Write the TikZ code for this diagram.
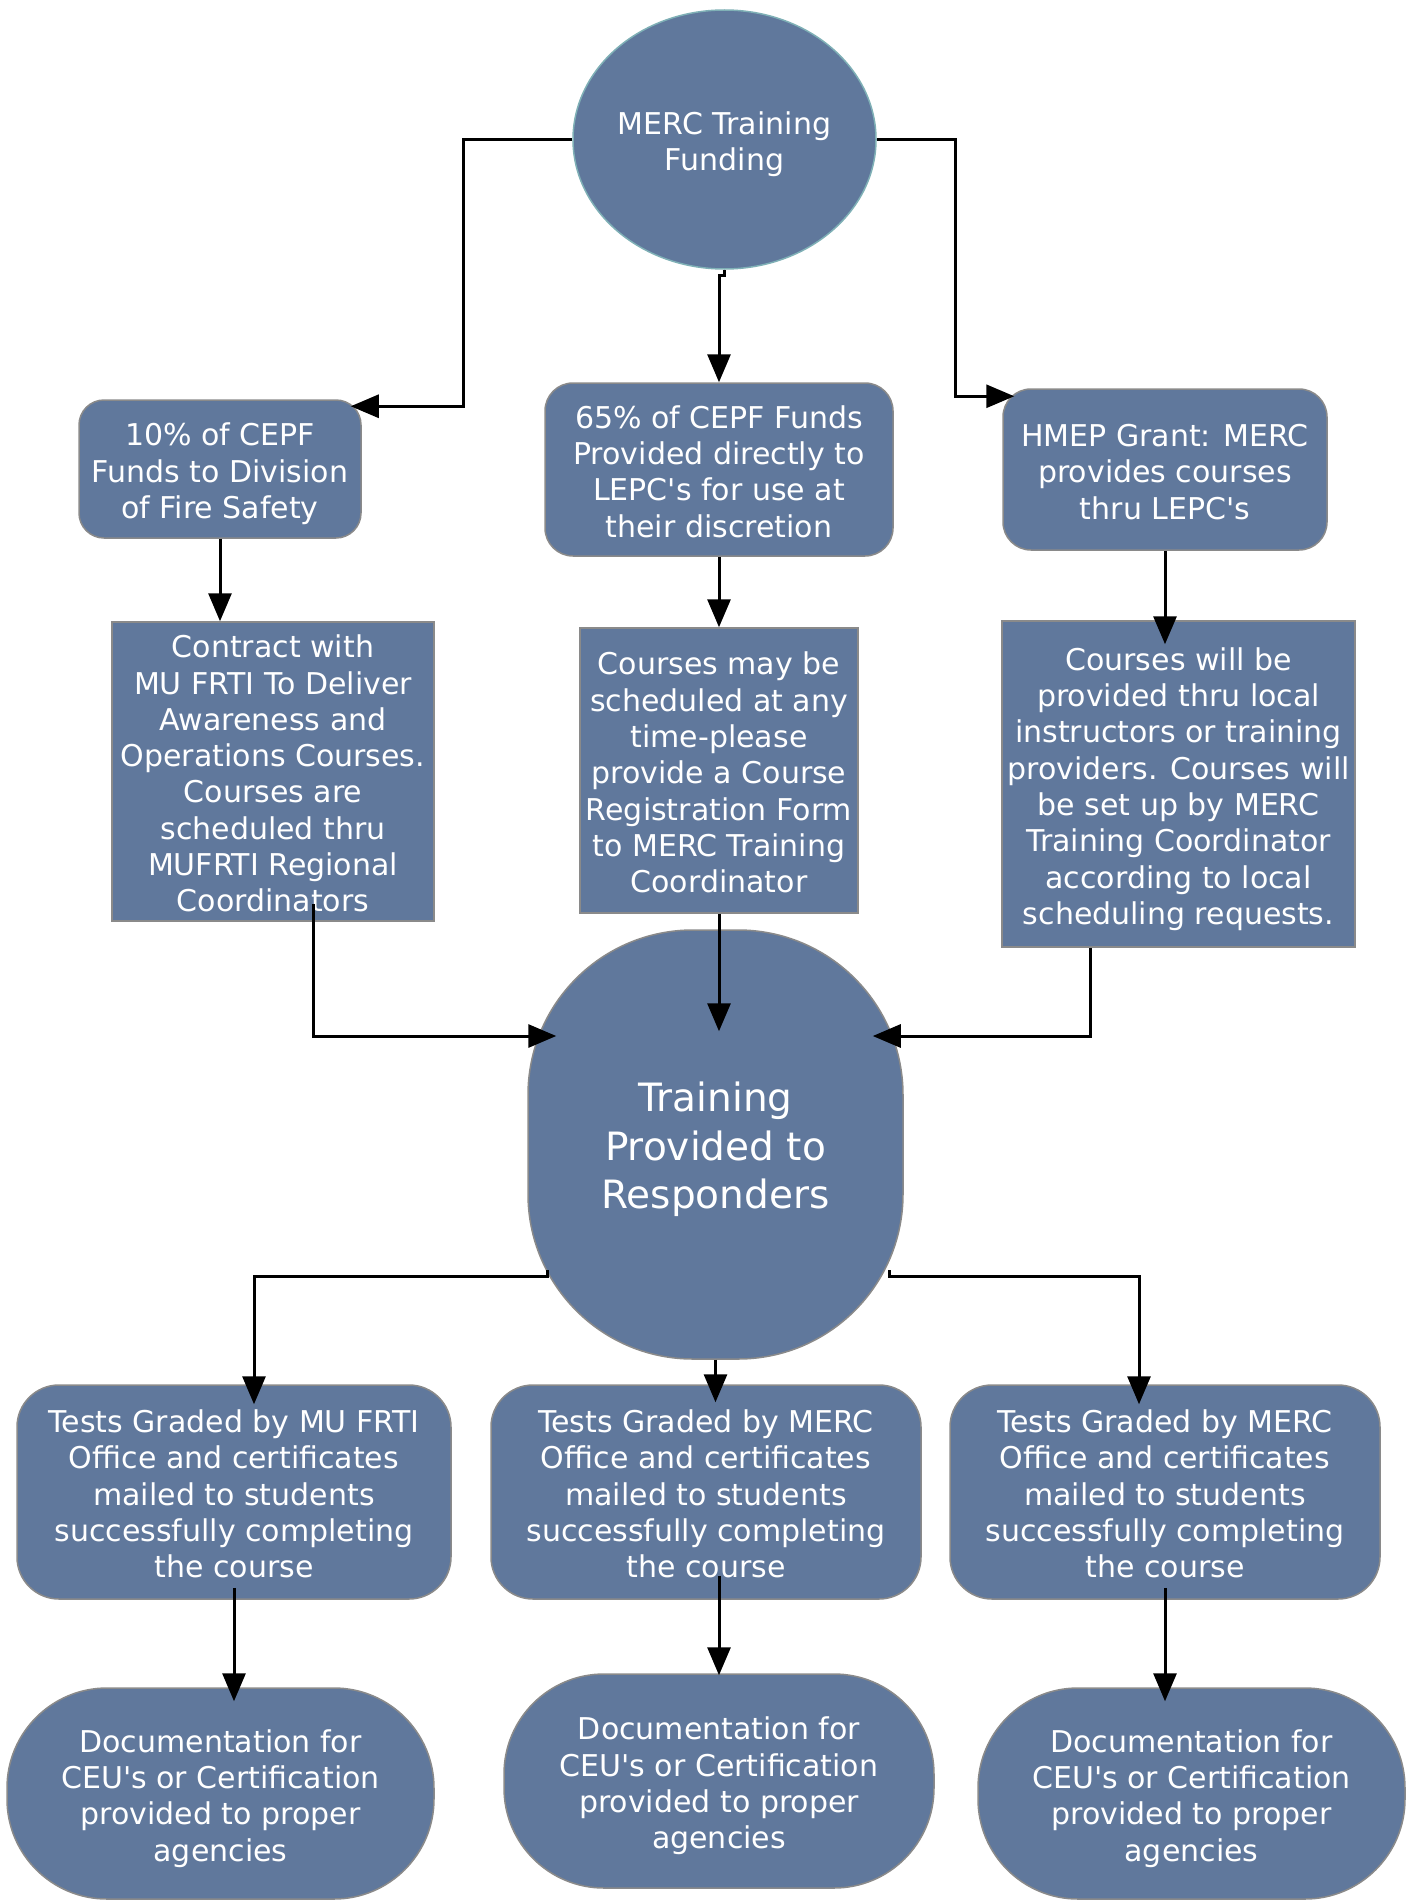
\documentclass[tikz,border=0pt]{standalone}
\usepackage{fontspec}
\setmainfont{DejaVu Sans}
\usepackage{tikz}
\usetikzlibrary{arrows.meta,calc,shapes.geometric}
\definecolor{mercblue}{HTML}{60789C}
\definecolor{edgegray}{HTML}{8A8A8A}
\definecolor{edgeteal}{HTML}{7FB0B6}
\newcommand\apo{\textquotesingle}
% centred lines, set a little low in the shape
\newcommand\ntext[1]{\raisebox{-6pt}[\height][\depth]{\begin{tabular}{@{}c@{}}#1\end{tabular}}}
\tikzset{
  base/.style={fill=mercblue, draw=edgegray, line width=1.5pt, text=white, inner sep=0pt,
    font=\fontsize{30}{36.3}\selectfont},
  sqbox/.style={base},
  rndbox/.style={base, rounded corners=25pt},
  testbox/.style={base, rounded corners=42pt},
  docnode/.style={base, rounded corners=100pt},
  arr/.style={line width=3pt, -{Triangle[length=28pt,width=23pt]}}
}
\begin{document}
\begin{tikzpicture}[x=1pt,y=-1pt]
\useasboundingbox (0,0) rectangle (1409,1900);
\node[base, ellipse, draw=edgeteal, minimum width=303pt, minimum height=259pt] (fund) at (724.5,139.5) {\ntext{MERC Training\\Funding}};
\node[rndbox, minimum width=282pt, minimum height=138pt] (L1) at (220,469) {\ntext{10\% of CEPF\\Funds to Division\\of Fire Safety}};
\node[rndbox, rounded corners=28pt, minimum width=348pt, minimum height=173pt] (M1) at (719,469.5) {\ntext{65\% of CEPF Funds\\Provided directly to\\LEPC\apo s for use at\\their discretion}};
\node[rndbox, rounded corners=28pt, minimum width=324pt, minimum height=161pt] (R1) at (1165,469.5) {\ntext{HMEP Grant: MERC\\provides courses\\thru LEPC\apo s}};
\node[sqbox, minimum width=322pt, minimum height=299pt] (L2) at (273,771.5) {\ntext{Contract with\\MU FRTI To Deliver\\Awareness and\\Operations Courses.\\Courses are\\scheduled thru\\MUFRTI Regional\\Coordinators}};
\node[sqbox, minimum width=278pt, minimum height=285pt] (M2) at (719,770.5) {\ntext{Courses may be\\scheduled at any\\time-please\\provide a Course\\Registration Form\\to MERC Training\\Coordinator}};
\node[sqbox, minimum width=353pt, minimum height=326pt] (R2) at (1178.5,784) {\ntext{Courses will be\\provided thru local\\instructors or training\\providers. Courses will\\be set up by MERC\\Training Coordinator\\according to local\\scheduling requests.}};
\node[base, rounded corners=165pt, minimum width=375pt, minimum height=429pt, font=\fontsize{39}{48.5}\selectfont] (train) at (715.5,1144.5) {\ntext{Training\\Provided to\\Responders}};
\node[testbox, minimum width=434pt, minimum height=214pt] (TL) at (234,1492) {\ntext{Tests Graded by MU FRTI\\Office and certificates\\mailed to students\\successfully completing\\the course}};
\node[testbox, minimum width=430pt, minimum height=214pt] (TM) at (706,1492) {\ntext{Tests Graded by MERC\\Office and certificates\\mailed to students\\successfully completing\\the course}};
\node[testbox, minimum width=430pt, minimum height=214pt] (TR) at (1165,1492) {\ntext{Tests Graded by MERC\\Office and certificates\\mailed to students\\successfully completing\\the course}};
\node[docnode, minimum width=427pt, minimum height=211pt] (DL) at (220.5,1793.5) {\ntext{Documentation for\\CEU\apo s or Certification\\provided to proper\\agencies}};
\node[docnode, minimum width=430pt, minimum height=214pt] (DM) at (719,1781) {\ntext{Documentation for\\CEU\apo s or Certification\\provided to proper\\agencies}};
\node[docnode, minimum width=427pt, minimum height=211pt] (DR) at (1191.5,1793.5) {\ntext{Documentation for\\CEU\apo s or Certification\\provided to proper\\agencies}};
% funding split
\draw[arr] (fund.west) -- ++(-109,0) |- ([xshift=-11pt,yshift=-7pt]L1.north east);
\draw[arr] (fund.south) -- ++(0,6) -| (M1.north);
\draw[arr] (fund.east) -- ++(79,0) |- ([xshift=12pt,yshift=-8pt]R1.north west);
\draw[arr] (L1.south) -- (L1.south |- L2.north);
\draw[arr] (M1.south) -- (M2.north);
\draw[arr] (R1.south) -- ($(R1.south |- R2.north)+(0,24)$);
% into training
\draw[arr] ($(L2.south)+(40,-18)$) |- ([xshift=29pt,yshift=108.5pt]train.west);
\draw[arr] (M2.south) -- ($(M2.south |- train.north)+(0,102)$);
\draw[arr] ([xshift=-88.5pt]R2.south) |- ([xshift=-31pt,yshift=108.5pt]train.east);
% out of training
\draw[arr] ([xshift=20pt,yshift=-125.5pt]train.west) -- ++(0,6) -| ($(TL.north)+(20,20)$);
\draw[arr] (train.south) -- ($(train.south |- TM.north)+(0,18)$);
\draw[arr] ([xshift=-14pt,yshift=-125.5pt]train.east) -- ++(0,6) -| ($(TR.north)+(-26,20)$);
\draw[arr] ($(TL.south)+(0,-12)$) -- ($(TL.south |- DL.north)+(0,14)$);
\draw[arr] ($(DM.north |- TM.south)+(0,-24)$) -- ($(DM.north)+(0,2)$);
\draw[arr] ($(TR.south)+(0,-12)$) -- ($(TR.south |- DR.north)+(0,14)$);
\end{tikzpicture}
\end{document}
